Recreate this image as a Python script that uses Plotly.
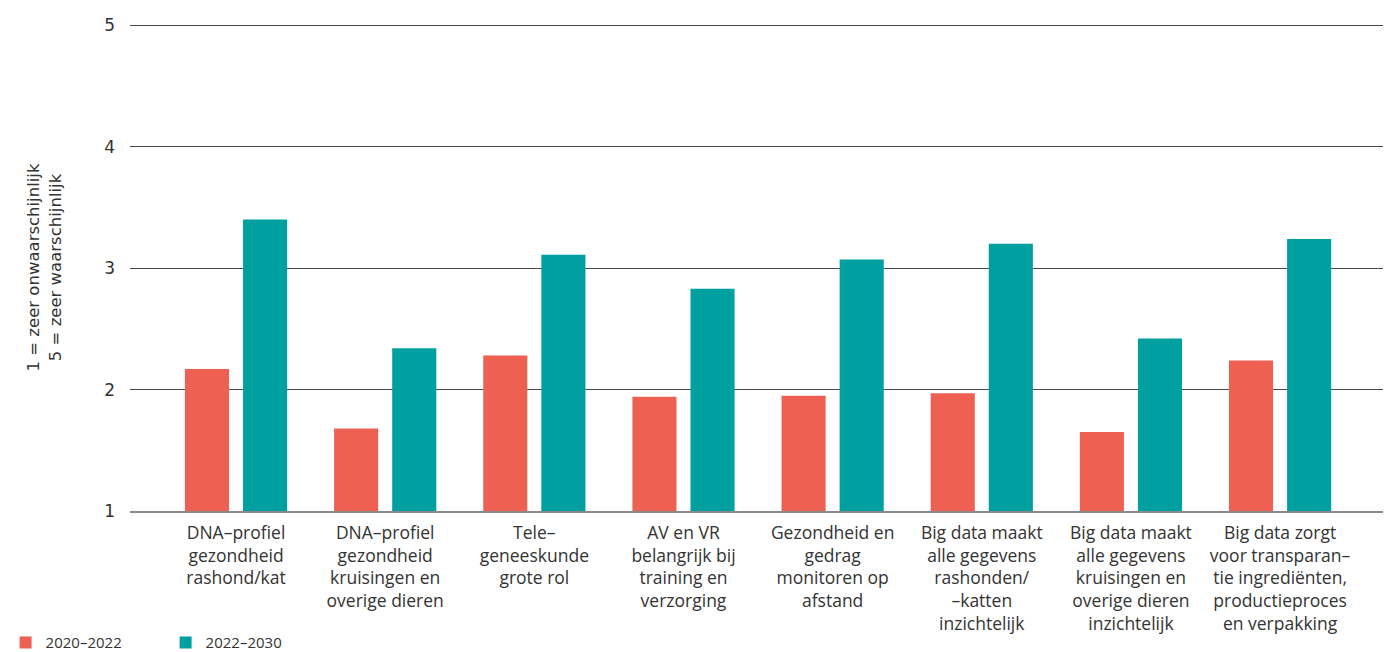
import plotly.graph_objects as go

categories = [
    "DNA–profiel<br>gezondheid<br>rashond/kat",
    "DNA–profiel<br>gezondheid<br>kruisingen en<br>overige dieren",
    "Tele–<br>geneeskunde<br>grote rol",
    "AV en VR<br>belangrijk bij<br>training en<br>verzorging",
    "Gezondheid en<br>gedrag<br>monitoren op<br>afstand",
    "Big data maakt<br>alle gegevens<br>rashonden/<br>–katten<br>inzichtelijk",
    "Big data maakt<br>alle gegevens<br>kruisingen en<br>overige dieren<br>inzichtelijk",
    "Big data zorgt<br>voor transparan–<br>tie ingrediënten,<br>productieproces<br>en verpakking",
]
values_2020_2022 = [2.17, 1.68, 2.28, 1.94, 1.95, 1.97, 1.65, 2.24]
values_2022_2030 = [3.40, 2.34, 3.11, 2.83, 3.07, 3.20, 2.42, 3.24]
series_names = ["2020–2022", "2022–2030"]
y_ticks = [1, 2, 3, 4, 5]
y_title = "1 = zeer onwaarschijnlijk<br>5 = zeer waarschijnlijk"

RED = "#ee6152"
TEAL = "#00a0a1"
TEXT = "#333333"
LABEL_FONT = "Open Sans"

fig = go.Figure()
fig.add_trace(go.Bar(x=categories, y=values_2020_2022, name=series_names[0],
                     marker=dict(color=RED, line=dict(width=0))))
fig.add_trace(go.Bar(x=categories, y=values_2022_2030, name=series_names[1],
                     marker=dict(color=TEAL, line=dict(width=0))))

fig.update_layout(
    width=1400, height=652,
    margin=dict(l=130, r=17, t=24, b=141, autoexpand=False),
    paper_bgcolor="white", plot_bgcolor="white",
    barmode="group", bargap=0.221, bargroupgap=0.241,
    showlegend=True,
    legend=dict(
        orientation="h", xref="container", yref="container",
        x=0.004, y=0.014, xanchor="left", yanchor="middle",
        font=dict(family=LABEL_FONT, size=15, color=TEXT),
        entrywidth=115, itemwidth=30, bgcolor="rgba(0,0,0,0)",
        traceorder="normal",
    ),
    font=dict(family="DejaVu Sans", color=TEXT),
)

fig.update_xaxes(
    type="category", range=[-0.711, 7.69],
    tickfont=dict(family=LABEL_FONT, size=17.5, color=TEXT),
    tickangle=0, ticks="", showgrid=False, zeroline=False,
    showline=True, linecolor="#8a8a8a", linewidth=1.5,
    ticklabelstandoff=5,
)
fig.update_yaxes(
    range=[1, 5.01], tickvals=y_ticks, ticktext=[str(v) for v in y_ticks],
    tickfont=dict(family="DejaVu Sans", size=17, color=TEXT),
    showgrid=True, gridcolor="#4a4a4a", gridwidth=1,
    zeroline=False, showline=False, ticks="",
    ticklabelstandoff=14,
    title=dict(text=y_title, font=dict(family="DejaVu Sans", size=16.5, color=TEXT),
               standoff=38),
)

fig.write_html("out.html")
